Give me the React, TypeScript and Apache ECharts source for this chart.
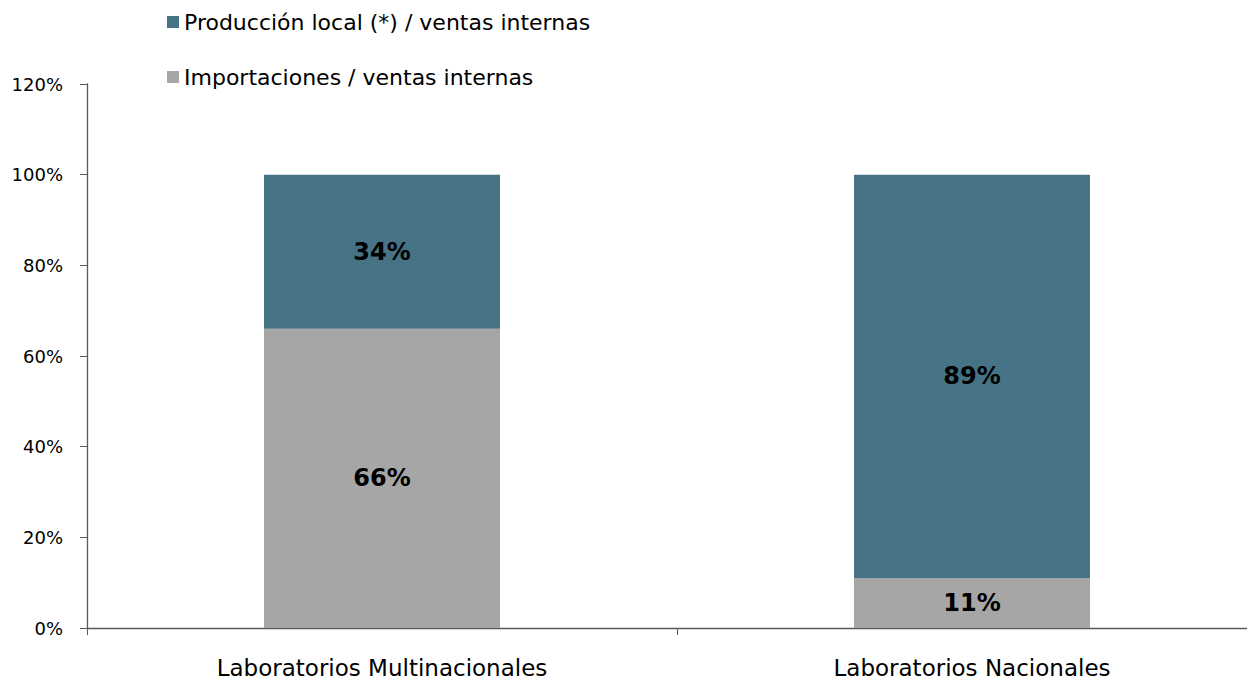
import React, { useEffect, useRef } from "react";
import * as echarts from "echarts";

const categories = ["Laboratorios Multinacionales", "Laboratorios Nacionales"];
const importaciones = [66, 11];
const produccionLocal = [34, 89];
const yTicks = { min: 0, max: 120, interval: 20 };
const seriesNames = ["Producción local (*) / ventas internas", "Importaciones / ventas internas"];

const FONT = "DejaVu Sans";

export default function App() {
  const ref = useRef<HTMLDivElement>(null);
  useEffect(() => {
    document.body.style.margin = "0";
    const chart = echarts.init(ref.current!, null, { renderer: "svg" });
    chart.setOption({
      animation: false,
      textStyle: { fontFamily: FONT },
      legend: [
        {
          data: [seriesNames[0]],
          left: 162,
          top: 6,
          itemWidth: 12,
          itemHeight: 12,
          icon: "rect",
          textStyle: { fontFamily: FONT, fontSize: 22, color: "#000" },
        },
        {
          data: [seriesNames[1]],
          left: 162,
          top: 61,
          itemWidth: 12,
          itemHeight: 12,
          icon: "rect",
          textStyle: { fontFamily: FONT, fontSize: 22, color: "#000" },
        },
      ],
      grid: { left: 87, top: 84, right: 0, height: 544, containLabel: false },
      xAxis: {
        type: "category",
        data: categories,
        boundaryGap: true,
        axisLine: { show: true, lineStyle: { color: "#595959", width: 1.3 } },
        axisTick: { show: true, length: 7, interval: 0, lineStyle: { color: "#595959" } },
        axisLabel: { fontFamily: FONT, fontSize: 23, color: "#000", margin: 28 },
        splitLine: { show: false },
      },
      yAxis: {
        type: "value",
        min: yTicks.min,
        max: yTicks.max,
        interval: yTicks.interval,
        axisLine: { show: true, lineStyle: { color: "#595959", width: 1.3 } },
        axisTick: { show: true, length: 7, lineStyle: { color: "#595959" } },
        axisLabel: { fontFamily: FONT, fontSize: 18, color: "#000", margin: 24, formatter: "{value}%" },
        splitLine: { show: false },
      },
      series: [
        {
          name: seriesNames[1],
          type: "bar",
          stack: "total",
          barWidth: "40%",
          data: importaciones,
          itemStyle: { color: "#a6a6a6" },
          label: {
            show: true,
            position: "inside",
            formatter: "{c}%",
            fontFamily: FONT,
            fontSize: 24,
            fontWeight: "bold",
            color: "#000",
          },
        },
        {
          name: seriesNames[0],
          type: "bar",
          stack: "total",
          barWidth: "40%",
          data: produccionLocal,
          itemStyle: { color: "#467386" },
          label: {
            show: true,
            position: "inside",
            formatter: "{c}%",
            fontFamily: FONT,
            fontSize: 24,
            fontWeight: "bold",
            color: "#000",
          },
        },
      ],
    });
    return () => chart.dispose();
  }, []);
  return (
    <div style={{ width: 1247, height: 679, overflow: "hidden" }}>
      <div ref={ref} style={{ width: 1267, height: 679 }} />
    </div>
  );
}
